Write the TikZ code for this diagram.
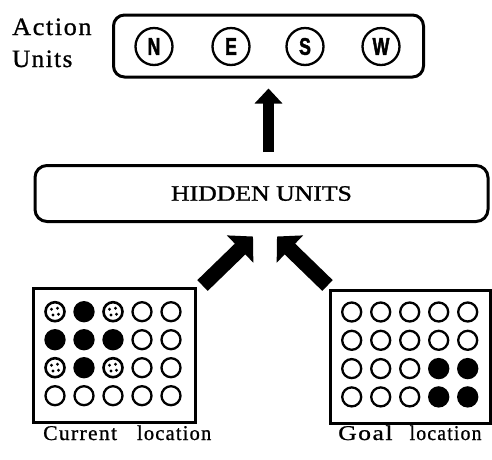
\documentclass[tikz,border=0pt]{standalone}
\usepackage{fontspec}
\usepackage{graphicx}
\setmainfont{Liberation Serif}
\newfontfamily\medserif[FakeBold=1.1]{Liberation Serif}
\newfontfamily\lblserif[FakeBold=0.9,LetterSpace=6]{Liberation Serif}
\newfontfamily\lsans[FakeBold=2.2]{Liberation Sans}
\usetikzlibrary{arrows.meta}
\begin{document}
\begin{tikzpicture}[x=1pt,y=-1pt,
  box/.style={draw, line width=3pt, rounded corners=11pt, inner sep=0pt},
  gridbox/.style={draw, line width=3pt, inner sep=0pt},
  unit/.style={draw, circle, line width=2.3pt, minimum size=37pt, inner sep=0pt, font=\lsans\bfseries\fontsize{24}{24}\selectfont},
  gdco/.style={draw, circle, line width=2.3pt, minimum size=19pt, inner sep=0pt, fill=white},
  gdcb/.style={gdco, fill=black},
  gdcs/.style={gdco, line width=2.6pt},
  stipdot/.style={fill=black},
  uparrow/.style={line width=11pt, -{Triangle[width=27pt,length=15pt]}},
  diagarrow/.style={line width=15pt, -{Triangle[width=37pt,length=18pt]}},
  lbl/.style={inner sep=0pt, anchor=base west, font=\lblserif\fontsize{21}{24}\selectfont}
]
\useasboundingbox (0,0) rectangle (492,459);

% action units
\node[box, minimum width=310pt, minimum height=62pt] (act) at (268.5,46) {};
\node[unit] (n) at (154,46.5) {\scalebox{0.74}[1]{N}};
\node[unit] (e) at (231,46.5) {\scalebox{0.74}[1]{E}};
\node[unit] (s) at (305,46.5) {\scalebox{0.74}[1]{S}};
\node[unit] (w) at (381,46.5) {\scalebox{0.74}[1]{W}};
\node[lbl, font=\lblserif\fontsize{25}{28}\selectfont] (actl) at (12,35) {\scalebox{1.05}[1]{Action}};
\node[lbl, font=\lblserif\fontsize{25}{28}\selectfont] (unitsl) at (12,67) {\scalebox{1.0}[1]{Units}};

% hidden units
\node[box, rounded corners=12pt, minimum width=453pt, minimum height=56pt,
      font=\medserif\fontsize{22}{26}\selectfont] (hidden) at (261.5,193.5) {\scalebox{1.17}[1]{HIDDEN UNITS}};

% grids
\node[gridbox, minimum width=162pt, minimum height=134pt] (lgrid) at (114,355) {};
\node[gridbox, minimum width=160pt, minimum height=133pt] (rgrid) at (410,356.5) {};

\foreach \r/\pat in {1/{s,b,s,o,o},2/{b,b,b,o,o},3/{s,b,s,o,o},4/{o,o,o,o,o}}{
  \foreach \t [count=\c] in \pat {
    \node[style=gdc\t] (l\r\c) at ({55+29*(\c-1)},{311.7+28*(\r-1)}) {};
  }
}
\foreach \r/\pat in {1/{o,o,o,o,o},2/{o,o,o,o,o},3/{o,o,o,b,b},4/{o,o,o,b,b}}{
  \foreach \t [count=\c] in \pat {
    \node[style=gdc\t] (r\r\c) at ({351.7+29*(\c-1)},{312+28.3*(\r-1)}) {};
  }
}
% stipple dots
\foreach \m in {l11,l13,l31,l33}{
  \foreach \dx/\dy in {-3.5/-2.5, 2.5/-3.5, -2/3.2, 3.5/2.5}{
    \fill[stipdot] ([shift={(\dx,\dy)}]\m.center) circle (1.6pt);
  }
}

% arrows
\draw[uparrow] ([shift={(7,-12)}]hidden.north) -- ([shift={(0,10)}]act.south);
\draw[diagarrow] ([shift={(6,-1)}]lgrid.north east) -- ([shift={(-8.5,13.5)}]hidden.south);
\draw[diagarrow] ([shift={(-1,-3)}]rgrid.north west) -- ([shift={(15.5,13.5)}]hidden.south);

% labels
\node[lbl] (curl) at (43,440) {\scalebox{1.03}[1]{Current}\hspace{20pt}\scalebox{0.97}[1]{location}};
\node[lbl] (goall) at (338,440) {\scalebox{1.22}[1]{Goal}\hspace{17pt}\scalebox{0.94}[1]{location}};
\end{tikzpicture}
\end{document}
